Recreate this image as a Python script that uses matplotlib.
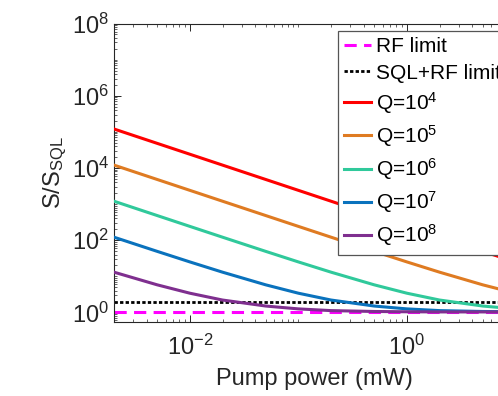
import matplotlib.pyplot as plt
from matplotlib.ticker import LogLocator, NullFormatter

plt.rcParams['font.family'] = ['Liberation Sans', 'DejaVu Sans']
plt.rcParams['mathtext.fontset'] = 'custom'
plt.rcParams['mathtext.rm'] = 'Liberation Sans'
plt.rcParams['mathtext.it'] = 'Liberation Sans'

# pump power samples (mW) and read-off S/S_SQL for each Q
pump_mw = [0.002, 0.005, 0.01, 0.02, 0.05, 0.1, 0.2, 0.5, 1, 2, 5, 10]
s_q1e4 = [120000, 48000, 24000, 12000, 4800, 2400, 1200, 480, 241, 121, 49, 25]
s_q1e5 = [12000, 4800, 2400, 1200, 481, 241, 121, 49, 25, 13, 5.8, 3.4]
s_q1e6 = [1200, 481, 241, 121, 49, 25, 13, 5.8, 3.4, 2.2, 1.5, 1.25]
s_q1e7 = [121, 49, 25, 13, 5.8, 3.4, 2.2, 1.5, 1.25, 1.12, 1.06, 1.04]
s_q1e8 = [13, 5.8, 3.4, 2.2, 1.5, 1.25, 1.12, 1.06, 1.04, 1.03, 1.03, 1.03]

rf_limit = 1.0
sql_rf_limit = 2.0

q_labels = ['Q=10$^4$', 'Q=10$^5$', 'Q=10$^6$', 'Q=10$^7$', 'Q=10$^8$']
q_colors = ['#ff0000', '#df7b22', '#30c99b', '#0a72bd', '#7f2f8f']

fig = plt.figure(figsize=(4.98, 3.96), dpi=100)
ax = fig.add_axes([0.2289, 0.186, 0.806, 0.7546])

# reference limits
ax.plot([pump_mw[0], pump_mw[-1]], [rf_limit, rf_limit], color='#ff00ff',
        linestyle=(0, (4, 2.4)), linewidth=2.2, label='RF limit', zorder=2)
ax.plot([pump_mw[0], pump_mw[-1]], [sql_rf_limit, sql_rf_limit], color='black',
        linestyle=(0, (1.2, 0.8)), linewidth=2.0, label='SQL+RF limit', zorder=2)

for s, lab, c in zip([s_q1e4, s_q1e5, s_q1e6, s_q1e7, s_q1e8], q_labels, q_colors):
    ax.plot(pump_mw, s, color=c, linewidth=2.2, label=lab, zorder=3)

ax.set_xscale('log')
ax.set_yscale('log')
ax.set_xlim(0.002, 10)
ax.set_ylim(0.53, 1e8)

ax.set_xticks([1e-2, 1e0])
ax.set_yticks([1e0, 1e2, 1e4, 1e6, 1e8])
ax.xaxis.set_minor_locator(LogLocator(base=10, subs='all', numticks=20))
ax.yaxis.set_minor_locator(LogLocator(base=10, subs='all', numticks=20))
ax.xaxis.set_minor_formatter(NullFormatter())
ax.yaxis.set_minor_formatter(NullFormatter())
ax.tick_params(which='both', direction='in', top=True, right=True,
               color='#262626', labelsize=17, labelcolor='#262626')
ax.tick_params(which='major', length=5, width=0.7)
ax.tick_params(which='minor', length=2.5, width=0.5)
ax.tick_params(axis='x', pad=9)
for sp in ax.spines.values():
    sp.set_color('#262626')
    sp.set_linewidth(0.8)

ax.set_xlabel('Pump power (mW)', fontsize=17, color='#262626', labelpad=6)
ax.set_ylabel('S/S$_{\\mathrm{SQL}}$', fontsize=17, color='#262626', labelpad=2)

leg = ax.legend(loc='upper left', bbox_to_anchor=(338 / 498, 1 - 31 / 396),
                bbox_transform=fig.transFigure, borderaxespad=0, fontsize=15,
                frameon=True, fancybox=False, framealpha=1, edgecolor='#555555',
                handlelength=1.3, handletextpad=0.2, labelspacing=0.35,
                borderpad=0.3)
leg.get_frame().set_linewidth(0.9)
leg.set_zorder(5)

fig.savefig('out.png', dpi=100, facecolor='white')
